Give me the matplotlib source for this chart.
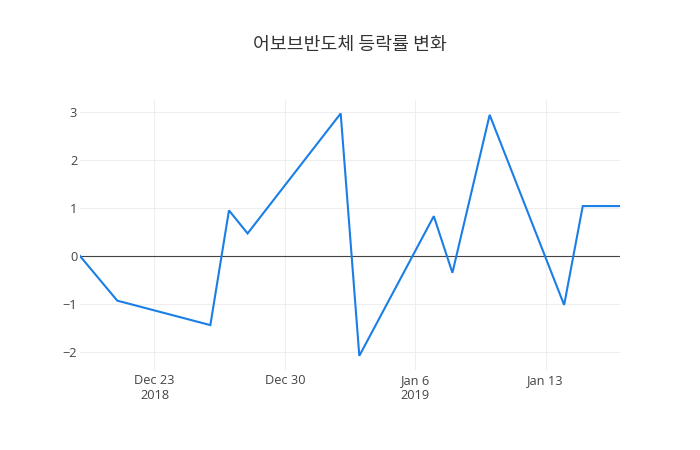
import matplotlib
matplotlib.use("Agg")
import matplotlib.pyplot as plt
import numpy as np
import pandas as pd

dates = ["2018-12-19", "2018-12-21", "2018-12-26", "2018-12-27", "2018-12-28",
         "2019-01-02", "2019-01-03", "2019-01-07", "2019-01-08", "2019-01-10",
         "2019-01-14", "2019-01-15", "2019-01-17"]
values = [0.0, -0.93, -1.44, 0.95, 0.47, 2.97, -2.08, 0.83, -0.35, 2.94,
          -1.02, 1.04, 1.04]
title = "어보브반도체 등락률 변화"
xtick_dates = ["2018-12-23", "2018-12-30", "2019-01-06", "2019-01-13"]
xtick_labels = ["Dec 23\n2018", "Dec 30", "Jan 6\n2019", "Jan 13"]
ytick_values = [-2, -1, 0, 1, 2, 3]
ytick_labels = ["−2", "−1", "0", "1", "2", "3"]

x = pd.to_datetime(dates)

plt.rcParams['font.family'] = ['Open Sans', 'DejaVu Sans']

fig = plt.figure(figsize=(7, 4.5), dpi=100)
ax = fig.add_axes([80/700, 80/450, 540/700, 270/450])

ax.plot(x, values, color='#1a7ee6', linewidth=1.5, solid_joinstyle='miter', zorder=3)
ax.axhline(0, color='#444444', linewidth=0.8, zorder=2)

ax.set_xlim(x[0], x[-1])
ax.set_ylim(-2.375, 3.25)

ax.set_xticks(pd.to_datetime(xtick_dates))
ax.set_xticklabels(xtick_labels, linespacing=1.15)
ax.set_yticks(ytick_values)
ax.set_yticklabels(ytick_labels)

ax.grid(True, color='#eeeeee', linewidth=0.8, zorder=0)
ax.set_axisbelow(True)
for s in ax.spines.values():
    s.set_visible(False)
ax.tick_params(axis='both', length=0, labelsize=9.2, colors='#444444')
ax.tick_params(axis='x', pad=3)
ax.tick_params(axis='y', pad=2)

fig.text(0.5, 1 - 45/450, title, ha='center', va='center', fontsize=13.2,
         color='#333333', family=['Noto Sans CJK KR', 'DejaVu Sans'])

fig.savefig("out.png", dpi=100)
